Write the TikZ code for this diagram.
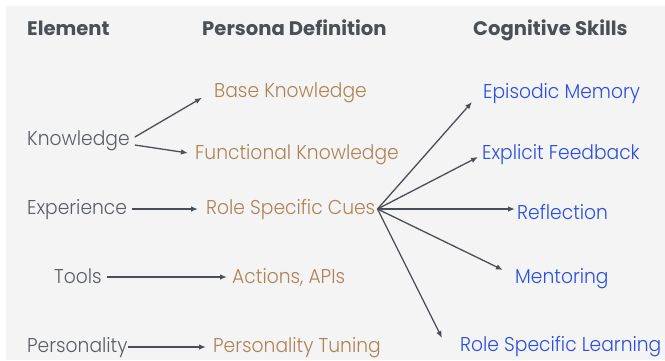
\documentclass[tikz,border=0pt]{standalone}
\usepackage{fontspec}
\setmainfont{Poppins}
\newfontfamily\bodyfont{Poppins Light}[FakeStretch=0.935]
\usetikzlibrary{arrows.meta}
\definecolor{bgc}{HTML}{F4F4F4}
\definecolor{hdc}{HTML}{4B4F56}
\definecolor{elc}{HTML}{5A5E66}
\definecolor{brc}{HTML}{B08356}
\definecolor{blc}{HTML}{2B4FE0}
\definecolor{arc}{HTML}{4A4E57}
\tikzset{
  hdr/.style={anchor=base west,inner sep=0pt,text=hdc,font=\fontsize{19.6}{22}\selectfont\bfseries},
  elem/.style={anchor=base west,inner sep=0pt,text=elc,font=\fontsize{20}{24}\bodyfont},
  pdef/.style={anchor=base west,inner sep=0pt,text=brc,font=\fontsize{20}{24}\bodyfont},
  cogs/.style={anchor=base west,inner sep=0pt,text=blc,font=\fontsize{20}{24}\bodyfont},
  conn/.style={draw=arc,line width=1.3pt,-{Latex[length=7pt,width=5.5pt]}}
}
\begin{document}
\begin{tikzpicture}[x=1pt,y=-1pt]
\useasboundingbox (0,0) rectangle (665,360);
\fill[white] (0,0) rectangle (665,360);
\fill[bgc] (6,6) rectangle (665,360);
% headers
\node[hdr] (h1) at (27,35) {Element};
\node[hdr] (h2) at (202,35) {Persona Definition};
\node[hdr] (h3) at (473,35) {Cognitive Skills};
% elements
\node[elem] (kn) at (27,145.7) {Knowledge};
\node[elem] (ex) at (27,214) {Experience};
\node[elem] (to) at (54,283) {Tools};
\node[elem] (pe) at (27,352) {Personality};
% persona definition
\node[pdef] (bk) at (214,97.7) {Base Knowledge};
\node[pdef] (fk) at (195,159) {Functional Knowledge};
\node[pdef] (rc) at (206,214) {Role Specific Cues};
\node[pdef] (ap) at (232,283) {Actions, APIs};
\node[pdef] (pt) at (213,352) {Personality Tuning};
% cognitive skills
\node[cogs] (em) at (483,98) {Episodic Memory};
\node[cogs] (ef) at (482,159) {Explicit Feedback};
\node[cogs] (rf) at (517,219) {Reflection};
\node[cogs] (mt) at (515,283) {Mentoring};
\node[cogs] (rl) at (460,351) {Role Specific Learning};
% connectors
\draw[conn] ([xshift=5pt,yshift=8.7pt]kn.base east) -- ([xshift=-12pt]bk.base west);
\draw[conn] ([xshift=5pt,yshift=0.7pt]kn.base east) -- ([xshift=-7pt,yshift=6pt]fk.base west);
\draw[conn] ([xshift=5pt,yshift=5pt]ex.base east) -- ([xshift=-8pt,yshift=5pt]rc.base west);
\draw[conn] ([xshift=5pt,yshift=6pt]to.base east) -- ([xshift=-5pt,yshift=6pt]ap.base west);
\draw[conn] ([xshift=0pt,yshift=5pt]pe.base east) -- ([xshift=-7pt,yshift=5pt]pt.base west);
\coordinate (o) at ([xshift=2pt,yshift=5pt]rc.base east);
\draw[conn] (o) -- ([xshift=-11pt,yshift=-4pt]em.base west);
\draw[conn] (o) -- ([xshift=-4pt,yshift=2pt]ef.base west);
\draw[conn] (o) -- ([xshift=-2pt,yshift=10pt]rf.base west);
\draw[conn] (o) -- ([xshift=-12pt,yshift=13pt]mt.base west);
\draw[conn] (o) -- ([xshift=-18pt,yshift=13pt]rl.base west);
\end{tikzpicture}
\end{document}
